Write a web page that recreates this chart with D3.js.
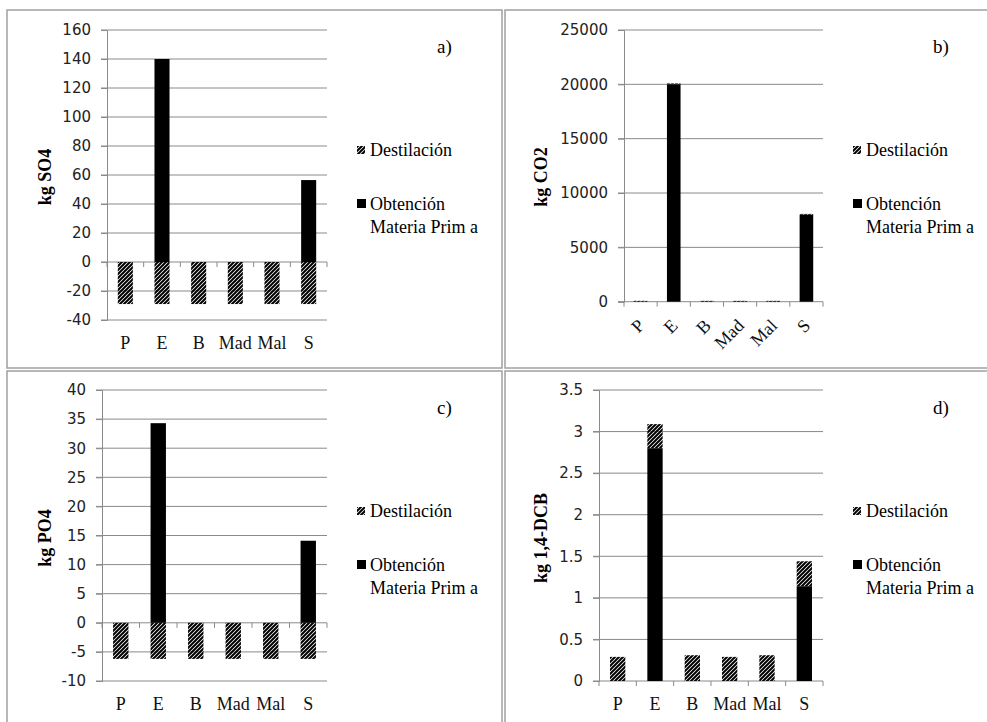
<!DOCTYPE html>
<html>
<head>
<meta charset="utf-8">
<script src="https://cdn.jsdelivr.net/npm/d3@7"></script>
<style>
	body { margin: 0; background: #fff; }
	svg { display: block; }
</style>
</head>
<body>
<svg width="987" height="722"></svg>
<script>
// categorias y valores
var categories = ["P", "E", "B", "Mad", "Mal", "S"];
var seriesNames = ["Destilación", "Obtención Materia Prim a"];

var so4Obtencion = [0, 140, 0, 0, 0, 56.5];
var so4Destilacion = [-29, -29, -29, -29, -29, -29];
var co2Obtencion = [0, 20000, 0, 0, 0, 8000];
var co2Destilacion = [80, 80, 80, 80, 80, 80];
var po4Obtencion = [0, 34.3, 0, 0, 0, 14.1];
var po4Destilacion = [-6.2, -6.2, -6.2, -6.2, -6.2, -6.2];
var dcbObtencion = [0, 2.8, 0, 0, 0, 1.14];
var dcbDestilacion = [0.29, 0.29, 0.31, 0.29, 0.31, 0.30];

var panelLabels = ["a)", "b)", "c)", "d)"];
var axisTitles = ["kg SO4", "kg CO2", "kg PO4", "kg 1,4-DCB"];
var yDomains = [[-40, 160], [0, 25000], [-10, 40], [0, 3.5]];
var ySteps = [20, 5000, 5, 0.5];

var serif = "'Liberation Serif', 'Times New Roman', serif";
var sans = "'DejaVu Sans', sans-serif";
var gridColor = "#8a8a8a";

function drawPlot() {
	var svg = d3.select("svg");

	var defs = svg.append("defs");
	defs.append("pattern")
		.attr("id", "hatch")
		.attr("patternUnits", "userSpaceOnUse")
		.attr("width", 4).attr("height", 4)
		.append("path")
		.attr("d", "M-1,1 l2,-2 M0,4 l4,-4 M3,5 l2,-2")
		.attr("stroke", "#000")
		.attr("stroke-width", 2);

	// layout of the 4 panels
	var panels = [
		{box: [7, 10, 495, 358], x0: 107, x1: 327, yTop: 30, yBot: 320, obt: so4Obtencion, des: so4Destilacion, rot: false, titleX: 45, lx: 356},
		{box: [505, 10, 500, 358], x0: 624, x1: 823, yTop: 30, yBot: 301.7, obt: co2Obtencion, des: co2Destilacion, rot: true, titleX: 541, lx: 852},
		{box: [7, 371, 495, 360], x0: 102, x1: 327, yTop: 390, yBot: 681, obt: po4Obtencion, des: po4Destilacion, rot: false, titleX: 45, lx: 356},
		{box: [505, 371, 500, 360], x0: 599, x1: 823, yTop: 390, yBot: 681, obt: dcbObtencion, des: dcbDestilacion, rot: false, titleX: 541, lx: 852}
	];

	panels.forEach(function(p, k) {
		svg.append("rect")
			.attr("x", p.box[0]).attr("y", p.box[1])
			.attr("width", p.box[2]).attr("height", p.box[3])
			.attr("fill", "none")
			.attr("stroke", "#a0a0a0")
			.attr("stroke-width", 1.5);

		var g = svg.append("g");
		var x = d3.scaleBand().domain(categories).range([p.x0, p.x1]);
		var y = d3.scaleLinear().domain(yDomains[k]).range([p.yBot, p.yTop]);
		var tv = d3.range(yDomains[k][0], yDomains[k][1] + ySteps[k] / 2, ySteps[k]);

		// gridlines
		g.selectAll(".grid").data(tv).enter().append("line")
			.attr("x1", p.x0 - 6).attr("x2", p.x1)
			.attr("y1", d => y(d)).attr("y2", d => y(d))
			.attr("stroke", gridColor).attr("stroke-width", 1);

		// y axis
		var ya = g.append("g")
			.attr("transform", "translate(" + p.x0 + ",0)")
			.call(d3.axisLeft(y).tickValues(tv).tickSize(6).tickPadding(10)
				.tickFormat(d => String(+d.toFixed(2))));
		ya.select(".domain").attr("stroke", gridColor);
		ya.selectAll(".tick line").attr("stroke", gridColor);
		ya.selectAll("text")
			.style("font-family", sans).style("font-size", "15px").attr("fill", "#222");

		// x axis ticks at category boundaries
		var y0 = y(0);
		g.selectAll(".xt").data(d3.range(categories.length + 1)).enter().append("line")
			.attr("x1", i => p.x0 + i * x.step()).attr("x2", i => p.x0 + i * x.step())
			.attr("y1", y0).attr("y2", y0 + 5)
			.attr("stroke", gridColor);

		// bars (stacked: positive upward, negative downward)
		var bw = x.bandwidth() * 0.41;
		categories.forEach(function(c, i) {
			var pos = 0, neg = 0;
			[[p.obt[i], "#000"], [p.des[i], "url(#hatch)"]].forEach(function(s) {
				var v = s[0];
				if (v === 0) return;
				var a, b;
				if (v > 0) { a = pos; b = pos + v; pos = b; }
				else { a = neg; b = neg + v; neg = b; }
				g.append("rect")
					.attr("x", x(c) + (x.bandwidth() - bw) / 2)
					.attr("width", bw)
					.attr("y", y(Math.max(a, b)))
					.attr("height", Math.abs(y(a) - y(b)))
					.attr("fill", s[1]);
			});
		});

		// category labels
		var lab = g.selectAll(".xl").data(categories).enter().append("text")
			.style("font-family", serif).style("font-size", "18px").attr("fill", "#111")
			.text(d => d);
		if (p.rot) {
			lab.attr("text-anchor", "end")
				.attr("transform", d => "translate(" + (x(d) + x.bandwidth() / 2 + 5) + "," + (y0 + 25) + ") rotate(-45)");
		} else {
			lab.attr("text-anchor", "middle")
				.attr("x", d => x(d) + x.bandwidth() / 2)
				.attr("y", p.yBot + 29);
		}

		// axis title
		g.append("text")
			.attr("transform", "translate(" + (p.titleX + 6) + "," + (p.box[1] + 167) + ") rotate(-90)")
			.attr("text-anchor", "middle")
			.style("font-family", serif).style("font-size", "18px").style("font-weight", "bold")
			.text(axisTitles[k]);

		// panel letter
		g.append("text")
			.attr("x", p.lx + 81).attr("y", p.box[1] + 43)
			.style("font-family", serif).style("font-size", "19px")
			.text(panelLabels[k]);

		// legend
		var ly = p.box[1];
		g.append("rect").attr("x", p.lx + 1).attr("y", ly + 136).attr("width", 8).attr("height", 8)
			.attr("fill", "url(#hatch)");
		g.append("text").attr("x", p.lx + 14).attr("y", ly + 146)
			.style("font-family", serif).style("font-size", "18px")
			.text(seriesNames[0]);
		g.append("rect").attr("x", p.lx + 1).attr("y", ly + 189).attr("width", 9).attr("height", 9)
			.attr("fill", "#000");
		var t = g.append("text").attr("x", p.lx + 14).attr("y", ly + 200)
			.style("font-family", serif).style("font-size", "18px");
		t.append("tspan").text("Obtención");
		t.append("tspan").attr("x", p.lx + 14).attr("dy", 23).text("Materia Prim a");
	});
}
drawPlot();
</script>
</body>
</html>
